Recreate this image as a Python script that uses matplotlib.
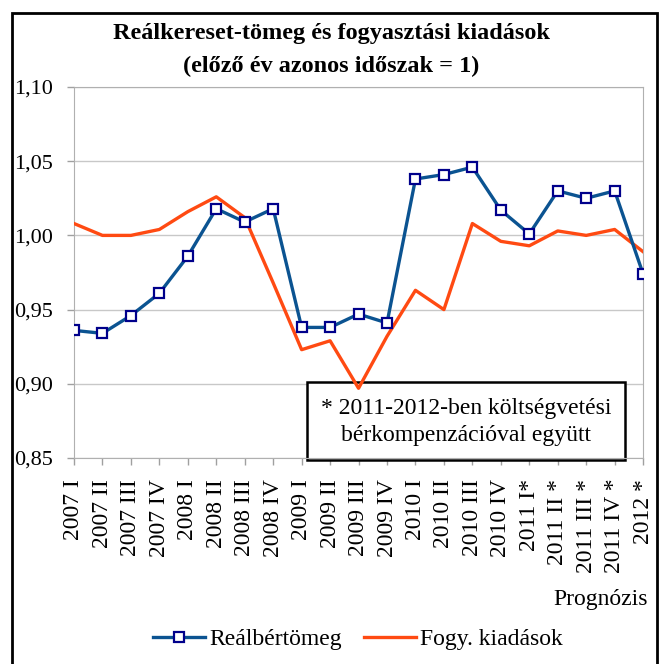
import matplotlib
matplotlib.use('Agg')
import matplotlib.pyplot as plt
from matplotlib.patches import Rectangle

plt.rcParams['font.family'] = ['Liberation Serif', 'DejaVu Serif']

# quarters, 2011-2012 incl. budget wage compensation (*)
periods = ['2007 I', '2007 II', '2007 III', '2007 IV',
           '2008 I', '2008 II', '2008 III', '2008 IV',
           '2009 I', '2009 II', '2009 III', '2009 IV',
           '2010 I', '2010 II', '2010 III', '2010 IV',
           '2011 I*', '2011 II *', '2011 III *', '2011 IV *', '2012 *']

realbertomeg = [0.936, 0.934, 0.946, 0.961, 0.986, 1.018, 1.009, 1.018,
                0.938, 0.938, 0.947, 0.941, 1.038, 1.041, 1.046, 1.017,
                1.001, 1.030, 1.025, 1.030, 0.974]

fogy_kiadasok = [1.008, 1.000, 1.000, 1.004, 1.016, 1.026, 1.012, 0.968,
                 0.923, 0.929, 0.897, 0.932, 0.963, 0.950, 1.008, 0.996,
                 0.993, 1.003, 1.000, 1.004, 0.989]

yticks = [0.85, 0.90, 0.95, 1.00, 1.05, 1.10]

fig = plt.figure(figsize=(6.63, 6.64), dpi=100)
ax = fig.add_axes([0.1116, 0.3102, 0.8584, 0.5588])

x = list(range(len(periods)))
ax.plot(x, fogy_kiadasok, color='#FF4A12', lw=2.4, zorder=3,
        label='Fogy. kiadások')
ax.plot(x, realbertomeg, color='#0B5391', lw=2.4, marker='s', ms=7.5,
        mfc='white', mec='#00008B', mew=1.6, zorder=4, label='Reálbértömeg')

ax.set_xlim(0, len(periods) - 1)
ax.set_ylim(0.85, 1.10)
ax.set_yticks(yticks)
ax.set_yticklabels([f'{v:.2f}'.replace('.', ',') for v in yticks], fontsize=16)
ax.set_xticks(x)
ax.set_xticklabels(periods, rotation=90, fontsize=17, va='top')
ax.tick_params(axis='both', color='#A0A0A0', length=5, width=1)
ax.tick_params(axis='y', pad=10)
ax.tick_params(axis='x', pad=10)
ax.grid(axis='y', color='#C8C8C8', lw=1)
for s in ax.spines.values():
    s.set_color('#B0B0B0')

# note box (below the lines, as in the original)
ax.add_patch(Rectangle((0.463, 0.307), 0.480, 0.1175,
                       transform=fig.transFigure, fc='white', ec='black',
                       lw=1.8, zorder=2.5, clip_on=False))
fig.text(0.703, 0.3645, '* 2011-2012-ben költségvetési\nbérkompenzációval együtt',
         ha='center', va='center', fontsize=17, linespacing=1.35, zorder=5)

handles, labels = ax.get_legend_handles_labels()
fig.legend(handles[::-1], labels[::-1], loc='center', ncol=2, frameon=False,
           fontsize=17, bbox_to_anchor=(0.54, 0.037), handlelength=2.2,
           columnspacing=0.9, handletextpad=0.2)

fig.text(0.5, 0.950, 'Reálkereset-tömeg és fogyasztási kiadások',
         ha='center', va='center', fontsize=17.5, fontweight='bold')
fig.text(0.5, 0.900, '(előző év azonos időszak = 1)',
         ha='center', va='center', fontsize=17.5, fontweight='bold')
fig.text(0.977, 0.097, 'Prognózis', ha='right', va='center', fontsize=17)

# outer frame
fig.patches.append(Rectangle((0.018, -0.05), 0.973, 1.03,
                             transform=fig.transFigure, fill=False,
                             ec='black', lw=2))

fig.savefig('out.png', dpi=100)
